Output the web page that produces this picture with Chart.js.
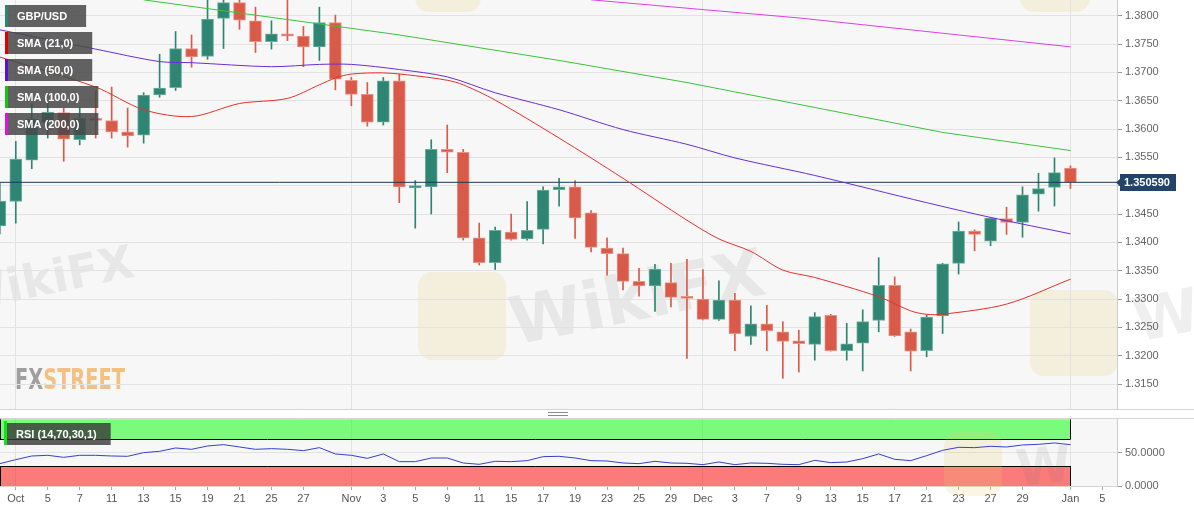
<!DOCTYPE html>
<html>
<head>
<meta charset="utf-8">
<script src="https://cdn.jsdelivr.net/npm/chart.js@4.4.1/dist/chart.umd.min.js"></script>
<style>
  body { margin: 0; background: #fff; width: 1194px; height: 513px; overflow: hidden; }
  canvas { position: absolute; left: 0; }
  #main { top: 0; }
  #rsi { top: 410px; }
</style>
</head>
<body>
<canvas id="main" width="1194" height="410"></canvas>
<canvas id="rsi" width="1194" height="103"></canvas>
<script>
// trading days on the axis (last three are empty slots to the right)
const days = ['Sep 30',
  'Oct 1','Oct 4','Oct 5','Oct 6','Oct 7','Oct 8','Oct 11','Oct 12','Oct 13','Oct 14','Oct 15',
  'Oct 18','Oct 19','Oct 20','Oct 21','Oct 22','Oct 25','Oct 26','Oct 27','Oct 28','Oct 29',
  'Nov 1','Nov 2','Nov 3','Nov 4','Nov 5','Nov 8','Nov 9','Nov 10','Nov 11','Nov 12',
  'Nov 15','Nov 16','Nov 17','Nov 18','Nov 19','Nov 22','Nov 23','Nov 24','Nov 25','Nov 26','Nov 29','Nov 30',
  'Dec 1','Dec 2','Dec 3','Dec 6','Dec 7','Dec 8','Dec 9','Dec 10','Dec 13','Dec 14','Dec 15','Dec 16','Dec 17',
  'Dec 20','Dec 21','Dec 22','Dec 23','Dec 24','Dec 27','Dec 28','Dec 29','Dec 30','Dec 31',
  'Jan 3','Jan 4','Jan 5','Jan 6'];

const open = [1.3429,1.3472,1.3545,1.3611,1.3629,1.3581,1.3619,1.3615,1.3595,1.3589,
  1.3660,1.3673,1.3742,1.3728,1.3795,1.3823,1.3791,1.3754,1.3768,1.3764,
  1.3745,1.3788,1.3686,1.3661,1.3612,1.3685,1.3496,1.3498,1.3564,1.3559,
  1.3408,1.3364,1.3418,1.3406,1.3423,1.3493,1.3498,1.3452,1.3390,1.3380,
  1.3331,1.3323,1.3329,1.3304,1.3300,1.3264,1.3298,1.3234,1.3256,1.3242,
  1.3226,1.3220,1.3271,1.3209,1.3222,1.3262,1.3324,1.3242,1.3209,1.3270,
  1.3363,1.3420,1.3402,1.3442,1.3435,1.3485,1.3497,1.3531];
const high = [1.3505,1.3578,1.3645,1.3646,1.3637,1.3638,1.3668,1.3674,1.3637,1.3664,
  1.3732,1.3772,1.3766,1.3834,1.3833,1.3831,1.3815,1.3791,1.3830,1.3781,
  1.3815,1.3801,1.3691,1.3682,1.3691,1.3697,1.3509,1.3581,1.3607,1.3564,
  1.3434,1.3427,1.3450,1.3472,1.3498,1.3513,1.3509,1.3456,1.3408,1.3390,
  1.3354,1.3361,1.3363,1.3370,1.3352,1.3332,1.3310,1.3288,1.3289,1.3260,
  1.3245,1.3276,1.3273,1.3257,1.3281,1.3373,1.3339,1.3247,1.3272,1.3363,
  1.3436,1.3422,1.3444,1.3462,1.3498,1.3522,1.3549,1.3535];
const low = [1.3415,1.3434,1.3530,1.3584,1.3543,1.3572,1.3584,1.3584,1.3568,1.3575,
  1.3656,1.3668,1.3709,1.3723,1.3742,1.3776,1.3735,1.3741,1.3756,1.3710,
  1.3721,1.3669,1.3641,1.3605,1.3607,1.3470,1.3425,1.3450,1.3523,1.3404,
  1.3360,1.3352,1.3404,1.3404,1.3397,1.3464,1.3407,1.3383,1.3342,1.3316,
  1.3305,1.3278,1.3286,1.3195,1.3263,1.3262,1.3209,1.3220,1.3209,1.3160,
  1.3171,1.3192,1.3208,1.3192,1.3173,1.3242,1.3234,1.3173,1.3198,1.3239,
  1.3344,1.3385,1.3394,1.3414,1.3409,1.3455,1.3464,1.3495];
const close = [1.3473,1.3547,1.3618,1.3630,1.3582,1.3619,1.3615,1.3595,1.3588,1.3660,
  1.3672,1.3742,1.3727,1.3794,1.3823,1.3792,1.3754,1.3768,1.3764,1.3745,
  1.3788,1.3688,1.3661,1.3612,1.3685,1.3498,1.3500,1.3564,1.3559,1.3408,
  1.3364,1.3421,1.3405,1.3421,1.3492,1.3498,1.3443,1.3391,1.3380,1.3331,
  1.3323,1.3353,1.3303,1.3301,1.3264,1.3298,1.3239,1.3256,1.3244,1.3225,
  1.3221,1.3269,1.3209,1.3221,1.3260,1.3324,1.3235,1.3208,1.3268,1.3362,
  1.3420,1.3414,1.3443,1.3435,1.3484,1.3495,1.3523,1.35059];

// moving averages, read at points along each curve
const sma21 = [['Sep 30',1.3727],['Oct 8',1.3674],['Oct 13',1.3634],['Oct 18',1.3622],['Oct 21',1.3645],
  ['Oct 26',1.3654],['Oct 28',1.3678],['Oct 29',1.3690],['Nov 1',1.3697],['Nov 3',1.3699],['Nov 5',1.3694],
  ['Nov 9',1.3686],['Nov 10',1.3678],['Nov 12',1.3651],['Nov 18',1.3584],['Nov 24',1.3513],['Nov 30',1.3439],
  ['Dec 2',1.3406],['Dec 6',1.3384],['Dec 8',1.3351],['Dec 10',1.3338],['Dec 16',1.3304],['Dec 20',1.3279],
  ['Dec 21',1.3273],['Dec 22',1.3273],['Dec 28',1.3291],['Jan 3',1.3335]];
const sma50 = [['Sep 30',1.3775],['Oct 8',1.3741],['Oct 14',1.3719],['Oct 18',1.3717],['Oct 25',1.3710],
  ['Oct 28',1.3714],['Nov 1',1.3714],['Nov 4',1.3705],['Nov 9',1.3692],['Nov 12',1.3664],['Nov 18',1.3634],
  ['Nov 24',1.3599],['Nov 30',1.3573],['Dec 3',1.3549],['Dec 10',1.3518],['Dec 21',1.3470],['Dec 27',1.3444],
  ['Jan 3',1.3415]];
const sma100 = [['Oct 13',1.3828],['Nov 4',1.3766],['Nov 18',1.3721],['Nov 30',1.3682],['Dec 22',1.3594],['Jan 3',1.3562]];
const sma200 = [['Nov 22',1.3828],['Dec 9',1.3796],['Jan 3',1.3745]];

const rsi = [33.5,39.5,45,46,43,46,46,45,44.5,50,52,57,55,60,62,58.5,55,56,55,53,
  57.5,48,46,41.5,48,36.5,36.5,42,42,34.5,32.5,37,36.5,38,44,44.5,42,38,37.5,34.5,
  33.5,37,34.5,34,32,36,32,34.5,34,32.5,32,38.5,35,36,41,48,40,38,45.5,53.5,
  58,57.5,59.5,58.5,61.5,62.5,64.5,62];

const lastPrice = 1.350590;
const seriesNames = ['GBP/USD', 'SMA (21,0)', 'SMA (50,0)', 'SMA (100,0)', 'SMA (200,0)'];
const priceTicks = [1.3150,1.3200,1.3250,1.3300,1.3350,1.3400,1.3450,1.3500,1.3550,1.3600,1.3650,1.3700,1.3750,1.3800];
const rsiTicks = [0, 50];
const rsiBands = [[70, 100], [0, 30]];
const monthStarts = ['Oct 1', 'Nov 1', 'Dec 1', 'Jan 3'];
const dateTicks = ['Oct 1','Oct 5','Oct 7','Oct 11','Oct 13','Oct 15','Oct 19','Oct 21','Oct 25','Oct 27',
  'Nov 1','Nov 3','Nov 5','Nov 9','Nov 11','Nov 15','Nov 17','Nov 19','Nov 23','Nov 25','Nov 29',
  'Dec 1','Dec 3','Dec 7','Dec 9','Dec 13','Dec 15','Dec 17','Dec 21','Dec 23','Dec 27','Dec 29',
  'Jan 3','Jan 5'];
const dateTickText = ['Oct','5','7','11','13','15','19','21','25','27',
  'Nov','3','5','9','11','15','17','19','23','25','29',
  'Dec','3','7','9','13','15','17','21','23','27','29',
  'Jan','5'];

Chart.defaults.font.family = '"Liberation Sans", Arial, sans-serif';

const UP = '#2E8571', DOWN = '#D95A49';
const UP_EDGE = '#6FAF9F', DOWN_EDGE = '#E8948A';
const COLORS = [UP, '#E00000', '#5A10D8', '#10C810', '#E010E0'];
const xMin = 0.0125, xMax = 69.9125;
const pos = d => days.indexOf(d);
const isUp = i => close[i] >= open[i];
const pairs = arr => arr.map(([d, v]) => ({ x: pos(d), y: v }));
const monthPos = monthStarts.map(pos);

const bodies = open.map((o, i) => ({ x: i, y: [o, close[i]] }));
const wicks = low.map((l, i) => ({ x: i, y: [l, high[i]] }));

// keep the plot flush with the canvas edges
const noPad = s => { s.paddingTop = 0; s.paddingBottom = 0; s.paddingLeft = 0; s.paddingRight = 0; };

function watermark(ctx, text, x, y, size, rot) {
  ctx.save();
  ctx.translate(x, y);
  ctx.rotate(rot);
  ctx.font = 'bold ' + size + 'px "DejaVu Sans"';
  ctx.fillStyle = 'rgba(110,110,110,0.11)';
  ctx.fillText(text, 0, 0);
  ctx.restore();
}
function logoBox(ctx, x, y, w, h) {
  ctx.save();
  ctx.fillStyle = 'rgba(236,205,120,0.20)';
  ctx.beginPath();
  ctx.roundRect(x, y, w, h, 14);
  ctx.fill();
  ctx.restore();
}

const mainDecor = {
  id: 'mainDecor',
  beforeDraw(chart) {
    const { ctx, chartArea: a } = chart;
    ctx.save();
    ctx.fillStyle = '#F7F7F7';
    ctx.fillRect(a.left, a.top, a.width, a.height);
    logoBox(ctx, 418, 272, 88, 88);
    logoBox(ctx, 1030, 290, 88, 86);
    logoBox(ctx, 1020, -50, 70, 62);
    logoBox(ctx, 415, -50, 66, 62);
    watermark(ctx, 'WikiFX', 515, 345, 66, -0.2);
    watermark(ctx, 'WikiFX', -40, 312, 46, -0.2);
    watermark(ctx, 'WikiFX', 1138, 342, 60, -0.2);
    // FXStreet logo
    ctx.font = 'bold 28px "DejaVu Sans Condensed"';
    ctx.textBaseline = 'alphabetic';
    const w1 = ctx.measureText('FX').width, w2 = ctx.measureText('STREET').width;
    const sx = 110 / (w1 + w2);
    ctx.translate(15, 389);
    ctx.scale(sx, 1);
    ctx.fillStyle = 'rgba(130,130,130,0.75)';
    ctx.fillText('FX', 0, 0);
    ctx.fillStyle = 'rgba(242,168,80,0.7)';
    ctx.fillText('STREET', w1, 0);
    ctx.restore();
  },
  afterDraw(chart) {
    const { ctx } = chart;
    ctx.save();
    // series tags
    ctx.font = 'bold 11px "Liberation Sans", Arial, sans-serif';
    ctx.textBaseline = 'middle';
    seriesNames.forEach((name, k) => {
      const top = 5 + k * 27;
      const w = ctx.measureText(name).width + 31;
      ctx.fillStyle = 'rgba(72,72,72,0.86)';
      ctx.fillRect(5, top, w, 22);
      ctx.fillStyle = COLORS[k];
      ctx.fillRect(5, top, 3, 22);
      ctx.fillStyle = '#FFFFFF';
      ctx.fillText(name, 17, top + 11.5);
    });
    // last price tag
    const y = Math.round(chart.scales.y.getPixelForValue(lastPrice));
    ctx.fillStyle = '#22446A';
    ctx.fillRect(1120, y - 8, 56, 17);
    ctx.beginPath();
    ctx.moveTo(1116, y + 0.5);
    ctx.lineTo(1121, y - 4);
    ctx.lineTo(1121, y + 5);
    ctx.closePath();
    ctx.fill();
    ctx.fillStyle = '#FFFFFF';
    ctx.fillText(lastPrice.toFixed(6), 1124, y + 1);
    // panel bottom edge
    ctx.strokeStyle = '#D4D4D4';
    ctx.lineWidth = 1;
    ctx.beginPath();
    ctx.moveTo(0, 409.5);
    ctx.lineTo(1194, 409.5);
    ctx.stroke();
    ctx.restore();
  }
};

new Chart(document.getElementById('main'), {
  type: 'bar',
  data: {
    datasets: [
      { type: 'line', data: pairs(sma200), borderColor: '#E040E0', borderWidth: 1, pointRadius: 0, order: 0 },
      { type: 'line', data: pairs(sma100), borderColor: '#3CC43C', borderWidth: 1, pointRadius: 0, order: 0 },
      { type: 'line', data: pairs(sma50), borderColor: '#6A2DD6', borderWidth: 1, pointRadius: 0, order: 0, tension: 0.3 },
      { type: 'line', data: pairs(sma21), borderColor: '#E8302A', borderWidth: 1, pointRadius: 0, order: 0, tension: 0.3 },
      { type: 'line', data: [{ x: xMin, y: lastPrice }, { x: xMax, y: lastPrice }],
        borderColor: '#1E3A5A', borderWidth: 1, pointRadius: 0, order: 0 },
      { type: 'bar', data: wicks, backgroundColor: c => isUp(c.dataIndex) ? UP : DOWN,
        barThickness: 1, grouped: false, order: 2 },
      { type: 'bar', data: bodies, backgroundColor: c => isUp(c.dataIndex) ? UP : DOWN,
        borderColor: c => isUp(c.dataIndex) ? UP_EDGE : DOWN_EDGE, borderWidth: 1, borderSkipped: false,
        barThickness: 12, minBarLength: 2, grouped: false, order: 1 }
    ]
  },
  options: {
    responsive: false,
    devicePixelRatio: 1,
    animation: false,
    layout: { padding: 0, autoPadding: false },
    plugins: { legend: { display: false }, tooltip: { enabled: false } },
    scales: {
      x: {
        type: 'linear', min: xMin, max: xMax, offset: false,
        afterBuildTicks: s => { s.ticks = monthPos.map(v => ({ value: v })); },
        afterFit: s => { s.height = 0; noPad(s); },
        ticks: { display: false },
        grid: { color: '#E2E2E2', drawTicks: false, tickLength: 0, offset: false },
        border: { display: false }
      },
      y: {
        position: 'right', min: 1.310412, max: 1.382765,
        afterBuildTicks: s => { s.ticks = priceTicks.map(v => ({ value: v })); },
        afterFit: s => { s.width = 77; noPad(s); },
        ticks: { callback: v => v.toFixed(4), color: '#666', font: { size: 11 }, padding: 3 },
        grid: { color: '#E2E2E2', tickLength: 5, tickColor: '#9A9A9A' },
        border: { color: '#C9CDD4' }
      }
    }
  },
  plugins: [mainDecor]
});

const rsiDecor = {
  id: 'rsiDecor',
  beforeDraw(chart) {
    const { ctx, chartArea: a } = chart;
    ctx.save();
    ctx.fillStyle = '#F7F7F7';
    ctx.fillRect(a.left, a.top, a.width, a.height);
    ctx.strokeStyle = '#D4D4D4';
    ctx.beginPath();
    ctx.moveTo(0, 8.5);
    ctx.lineTo(1194, 8.5);
    ctx.stroke();
    // drag handle
    ctx.strokeStyle = '#8A8A8A';
    ctx.beginPath();
    ctx.moveTo(548, 2.5); ctx.lineTo(568, 2.5);
    ctx.moveTo(548, 5.5); ctx.lineTo(568, 5.5);
    ctx.stroke();
    ctx.restore();
  },
  beforeDatasetsDraw(chart) {
    const { ctx, scales: { x, y } } = chart;
    const left = x.left, right = Math.round(x.getPixelForValue(open.length - 1)) + 0.5;
    ctx.save();
    rsiBands.forEach(([lo, hi], k) => {
      const yt = y.getPixelForValue(hi), yb = y.getPixelForValue(lo);
      ctx.fillStyle = k === 0 ? 'rgba(0,255,0,0.5)' : 'rgba(255,0,0,0.5)';
      ctx.fillRect(left, yt, right - left, yb - yt);
      ctx.strokeStyle = '#000';
      ctx.lineWidth = 1;
      ctx.beginPath();
      const edge = Math.round(k === 0 ? yb : yt) + 0.5;
      ctx.moveTo(left + 0.5, yt); ctx.lineTo(left + 0.5, yb);
      ctx.moveTo(right, yt); ctx.lineTo(right, yb);
      ctx.moveTo(left, edge); ctx.lineTo(right, edge);
      ctx.stroke();
    });
    logoBox(ctx, 944, 22, 58, 64);
    watermark(ctx, 'W', 1018, 76, 50, -0.1);
    ctx.restore();
  },
  afterDraw(chart) {
    const { ctx } = chart;
    ctx.save();
    ctx.font = 'bold 11px "Liberation Sans", Arial, sans-serif';
    ctx.textBaseline = 'middle';
    const label = 'RSI (14,70,30,1)';
    const w = ctx.measureText(label).width + 26;
    ctx.fillStyle = 'rgba(58,58,58,0.82)';
    ctx.fillRect(4, 13, w, 22);
    ctx.fillStyle = '#19E019';
    ctx.fillRect(4, 11, 3, 24);
    ctx.fillStyle = '#FFFFFF';
    ctx.fillText(label, 16, 24.5);
    ctx.restore();
  }
};

new Chart(document.getElementById('rsi'), {
  type: 'line',
  data: {
    datasets: [{ data: rsi.map((v, i) => ({ x: i, y: v })), borderColor: '#3342C8', borderWidth: 1, pointRadius: 0 }]
  },
  options: {
    responsive: false,
    devicePixelRatio: 1,
    animation: false,
    layout: { padding: { top: 9.3, left: 0, right: 0, bottom: 0 }, autoPadding: false },
    plugins: { legend: { display: false }, tooltip: { enabled: false } },
    scales: {
      x: {
        type: 'linear', min: xMin, max: xMax,
        afterBuildTicks: s => { s.ticks = dateTicks.map(d => ({ value: pos(d) })); },
        afterFit: s => { s.height = 27; noPad(s); },
        ticks: { autoSkip: false, maxRotation: 0, color: '#555', font: { size: 11 }, padding: 2,
          callback: (v, i) => dateTickText[i] },
        grid: { color: c => (c.tick && monthPos.includes(c.tick.value)) ? '#E2E2E2' : 'rgba(0,0,0,0)',
          tickColor: '#A8A8A8', tickLength: 4 },
        border: { color: '#D4D4D4' }
      },
      y: {
        position: 'right', min: 0, max: 100,
        afterBuildTicks: s => { s.ticks = rsiTicks.map(v => ({ value: v })); },
        afterFit: s => { s.width = 77; noPad(s); },
        ticks: { callback: v => v.toFixed(4), color: '#666', font: { size: 11 }, padding: 3 },
        grid: { color: '#E2E2E2', tickLength: 5, tickColor: '#9A9A9A' },
        border: { color: '#C9CDD4' }
      }
    }
  },
  plugins: [rsiDecor]
});
</script>
</body>
</html>
